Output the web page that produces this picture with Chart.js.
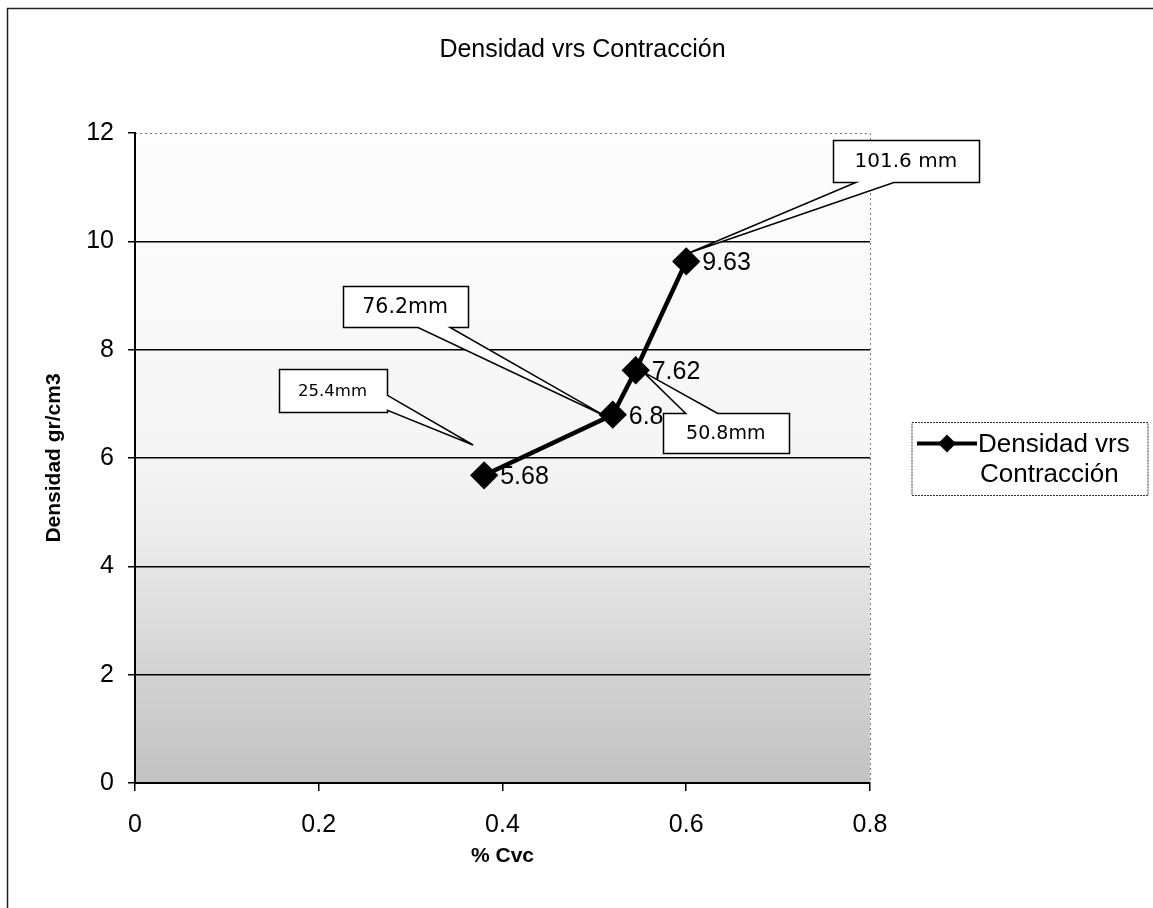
<!DOCTYPE html>
<html>
<head>
<meta charset="utf-8">
<style>
  html, body { margin: 0; padding: 0; background: #fff; }
  #wrap { width: 1153px; height: 908px; }
</style>
<script src="https://cdn.jsdelivr.net/npm/chart.js@4.4.1/dist/chart.umd.min.js"></script>
</head>
<body>
<div id="wrap"><canvas id="densChart"></canvas></div>
<script>
// data
const cvc = [0.38, 0.52, 0.545, 0.60];
const densidad = [5.68, 6.8, 7.62, 9.63];
const xTicks = [0, 0.2, 0.4, 0.6, 0.8];
const yTicks = [0, 2, 4, 6, 8, 10, 12];
const callText = ["25.4mm", "76.2mm", "50.8mm", "101.6 mm"];
const serieName = "Densidad vrs Contracción";

// callout placement (box centre + pointer tip in data units, wedge side / base offsets in px)
const callPlace = [
  { box: [0.215, 7.25], tip: [0.368, 6.24], w: 108, h: 43, side: "right", base: [5, 20], size: 16.5 },
  { box: [0.294, 8.79], tip: [0.510, 6.79], w: 125, h: 41, side: "bottom", base: [13, 45], size: 20.5 },
  { box: [0.643, 6.46], tip: [0.553, 7.59], w: 126, h: 40, side: "top", base: [-40, -8], size: 19 },
  { box: [0.839, 11.48], tip: [0.602, 9.78], w: 146, h: 42, side: "bottom", base: [-50, -12], size: 20 }
];

const FONT = '"Liberation Sans", Arial, sans-serif';

const plotBg = {
  id: "plotBg",
  beforeDraw(chart) {
    const { ctx, chartArea: a } = chart;
    ctx.save();
    ctx.fillStyle = "#fff";
    ctx.fillRect(0, 0, chart.width, chart.height);
    // outer frame of the chart
    ctx.strokeStyle = "#222";
    ctx.lineWidth = 1.5;
    ctx.beginPath();
    ctx.moveTo(7.5, chart.height);
    ctx.lineTo(7.5, 8.5);
    ctx.lineTo(chart.width, 8.5);
    ctx.stroke();
    // grainy grey plot area -> gradient
    const g = ctx.createLinearGradient(0, a.top, 0, a.bottom);
    g.addColorStop(0, "#fdfdfd");
    g.addColorStop(0.5, "#f5f5f5");
    g.addColorStop(0.62, "#ececec");
    g.addColorStop(0.8, "#d6d6d6");
    g.addColorStop(1, "#c2c2c2");
    ctx.fillStyle = g;
    ctx.fillRect(a.left, a.top, a.right - a.left, a.bottom - a.top);
    ctx.setLineDash([2, 3]);
    ctx.strokeStyle = "#777";
    ctx.lineWidth = 1;
    ctx.beginPath();
    ctx.moveTo(a.left, a.top + 0.5);
    ctx.lineTo(a.right + 0.5, a.top + 0.5);
    ctx.lineTo(a.right + 0.5, a.bottom);
    ctx.stroke();
    ctx.restore();
  }
};

const pointLabels = {
  id: "pointLabels",
  afterDatasetsDraw(chart) {
    const { ctx } = chart;
    const meta = chart.getDatasetMeta(0);
    ctx.save();
    ctx.font = "25px " + FONT;
    ctx.fillStyle = "#000";
    ctx.textBaseline = "middle";
    meta.data.forEach((pt, i) => {
      ctx.fillText(String(densidad[i]), pt.x + 16, pt.y + 2);
    });
    ctx.restore();
  }
};

const callouts = {
  id: "callouts",
  afterDraw(chart) {
    const { ctx, scales } = chart;
    const xs = scales.x, ys = scales.y;
    ctx.save();
    callPlace.forEach((c, i) => {
      const cx = xs.getPixelForValue(c.box[0]);
      const cy = ys.getPixelForValue(c.box[1]);
      const tx = xs.getPixelForValue(c.tip[0]);
      const ty = ys.getPixelForValue(c.tip[1]);
      const l = Math.round(cx - c.w / 2) + 0.5, r = l + c.w;
      const t = Math.round(cy - c.h / 2) + 0.5, b = t + c.h;
      ctx.beginPath();
      if (c.side === "bottom") {
        ctx.moveTo(l, t); ctx.lineTo(r, t); ctx.lineTo(r, b);
        ctx.lineTo(cx + c.base[1], b); ctx.lineTo(tx, ty); ctx.lineTo(cx + c.base[0], b);
        ctx.lineTo(l, b);
      } else if (c.side === "top") {
        ctx.moveTo(l, t); ctx.lineTo(cx + c.base[0], t); ctx.lineTo(tx, ty);
        ctx.lineTo(cx + c.base[1], t); ctx.lineTo(r, t); ctx.lineTo(r, b); ctx.lineTo(l, b);
      } else {
        ctx.moveTo(l, t); ctx.lineTo(r, t); ctx.lineTo(r, cy + c.base[0]); ctx.lineTo(tx, ty);
        ctx.lineTo(r, cy + c.base[1]); ctx.lineTo(r, b); ctx.lineTo(l, b);
      }
      ctx.closePath();
      ctx.fillStyle = "#fff";
      ctx.fill();
      ctx.strokeStyle = "#000";
      ctx.lineWidth = 1.5;
      ctx.stroke();
      ctx.fillStyle = "#000";
      ctx.font = c.size + 'px "DejaVu Sans", Verdana, sans-serif';
      ctx.textAlign = "center";
      ctx.textBaseline = "middle";
      ctx.fillText(callText[i], cx, cy + 1);
    });
    ctx.restore();
  }
};

const sideLegend = {
  id: "sideLegend",
  afterDraw(chart) {
    const { ctx, chartArea: a } = chart;
    const ds = chart.data.datasets[0];
    const x = a.right + 42, mid = (a.top + a.bottom) / 2;
    const w = 236, h = 73, y = Math.round(mid - h / 2) + 0.5;
    ctx.save();
    ctx.fillStyle = "#fff";
    ctx.fillRect(x, y, w, h);
    ctx.strokeStyle = "#333";
    ctx.lineWidth = 1;
    ctx.setLineDash([2, 1]);
    ctx.strokeRect(x, y, w, h);
    ctx.setLineDash([]);
    const ly = y + 21;
    ctx.strokeStyle = ds.borderColor;
    ctx.lineWidth = 4;
    ctx.beginPath();
    ctx.moveTo(x + 5, ly);
    ctx.lineTo(x + 65, ly);
    ctx.stroke();
    ctx.fillStyle = "#000";
    ctx.beginPath();
    ctx.moveTo(x + 35, ly - 9); ctx.lineTo(x + 44, ly); ctx.lineTo(x + 35, ly + 9); ctx.lineTo(x + 26, ly);
    ctx.closePath();
    ctx.fill();
    ctx.font = "26px " + FONT;
    ctx.textBaseline = "middle";
    const words = ds.label.split(" ");
    ctx.fillText(words.slice(0, 2).join(" "), x + 66, ly + 1);
    ctx.fillText(words.slice(2).join(" "), x + 68, ly + 31);
    ctx.restore();
  }
};

new Chart(document.getElementById("densChart"), {
  type: "scatter",
  data: {
    datasets: [{
      label: serieName,
      data: cvc.map((v, i) => ({ x: v, y: densidad[i] })),
      showLine: true,
      tension: 0,
      borderColor: "#000",
      backgroundColor: "#000",
      borderWidth: 4.5,
      pointStyle: "rectRot",
      pointRadius: 11,
      pointHoverRadius: 11
    }]
  },
  options: {
    responsive: true,
    maintainAspectRatio: false,
    animation: false,
    events: [],
    layout: { padding: { left: 12, top: 0, right: 0, bottom: 0 } },
    plugins: {
      legend: { display: false },
      tooltip: { enabled: false },
      title: {
        display: true,
        text: "Densidad vrs Contracción",
        color: "#000",
        font: { family: FONT, size: 25, weight: "normal" },
        padding: { top: 35, bottom: 68 }
      }
    },
    scales: {
      x: {
        type: "linear",
        min: 0,
        max: 0.8,
        afterBuildTicks: s => { s.ticks = xTicks.map(v => ({ value: v })); },
        afterFit: s => { s.height = 125; },
        ticks: { color: "#000", font: { family: FONT, size: 25 }, padding: 19, callback: v => String(v) },
        grid: { drawOnChartArea: false, color: "#000", tickColor: "#000", tickLength: 8, lineWidth: 1.5 },
        border: { color: "#000", width: 2 },
        title: {
          display: true, text: "% Cvc", color: "#000",
          font: { family: FONT, size: 21, weight: "bold" },
          padding: { top: 0, bottom: 39 }
        }
      },
      y: {
        min: 0,
        max: 12,
        afterBuildTicks: s => { s.ticks = yTicks.map(v => ({ value: v })); },
        afterFit: s => { s.width = 123; },
        ticks: { color: "#000", font: { family: FONT, size: 25 }, padding: 14, callback: v => String(v) },
        grid: {
          color: c => (c.tick && c.tick.value === 12 ? "rgba(0,0,0,0)" : "#000"),
          tickColor: "#000",
          tickLength: 7,
          lineWidth: 1.5
        },
        border: { color: "#000", width: 2 },
        title: {
          display: true, text: "Densidad gr/cm3", color: "#000",
          font: { family: FONT, size: 21, weight: "bold" },
          padding: { top: 30, bottom: 0 }
        }
      },
      // empty right-hand strip that holds the legend
      yPad: {
        type: "linear",
        axis: "y",
        position: "right",
        ticks: { display: false },
        grid: { display: false },
        border: { display: false },
        afterFit: s => { s.width = 283; }
      }
    }
  },
  plugins: [plotBg, pointLabels, callouts, sideLegend]
});
</script>
</body>
</html>
